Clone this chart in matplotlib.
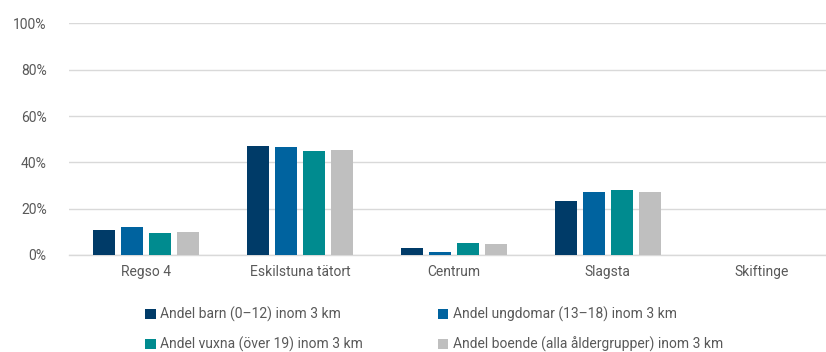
import numpy as np
import matplotlib.pyplot as plt
from matplotlib.ticker import PercentFormatter

plt.rcParams['font.family'] = ['Roboto', 'DejaVu Sans']

# områden och andelar (%) per åldersgrupp
omraden = ['Regso 4', 'Eskilstuna tätort', 'Centrum', 'Slagsta', 'Skiftinge']
barn = [10.8, 46.9, 3.0, 23.3, 0.0]
ungdomar = [12.1, 46.7, 1.3, 27.0, 0.0]
vuxna = [9.5, 45.0, 5.0, 28.0, 0.0]
boende = [9.9, 45.3, 4.6, 27.2, 0.0]

serier = [
    ('Andel barn (0–12) inom 3 km', barn, '#003b68'),
    ('Andel ungdomar (13–18) inom 3 km', ungdomar, '#00639f'),
    ('Andel vuxna (över 19) inom 3 km', vuxna, '#008b8f'),
    ('Andel boende (alla åldergrupper) inom 3 km', boende, '#bfbfbf'),
]

textfarg = '#595959'
gridfarg = '#d9d9d9'

fig = plt.figure(figsize=(8.26, 3.52), dpi=100)
ax = fig.add_axes([0.0835, 0.2756, 0.932, 0.658])

x = np.arange(len(omraden))
bredd = 0.143
steg = 0.182
staplar = []
for i, (namn, varden, farg) in enumerate(serier):
    b = ax.bar(x + (i - 1.5) * steg, varden, width=bredd, color=farg, label=namn, zorder=3)
    staplar.append(b)

ax.set_xlim(-0.5, len(omraden) - 0.5)
ax.set_ylim(0, 100)
ax.set_yticks(np.arange(0, 101, 20))
ax.yaxis.set_major_formatter(PercentFormatter(decimals=0))
ax.set_xticks(x)
ax.set_xticklabels(omraden)
ax.tick_params(axis='both', length=0, colors=textfarg, labelsize=10)
ax.tick_params(axis='y', pad=16)
ax.tick_params(axis='x', pad=7)
ax.grid(axis='y', color=gridfarg, linewidth=1, zorder=0)
for s in ['top', 'right', 'left']:
    ax.spines[s].set_visible(False)
ax.spines['bottom'].set_color(gridfarg)
ax.spines['bottom'].set_linewidth(1)

# legend radvis: barn, ungdomar / vuxna, boende
ordning = [0, 2, 1, 3]
leg = fig.legend([staplar[i] for i in ordning], [serier[i][0] for i in ordning],
                 ncol=2, loc='lower left', bbox_to_anchor=(0.161, -0.036),
                 frameon=False, fontsize=10, handlelength=0.75, handleheight=0.75,
                 handletextpad=0.3, columnspacing=5.4, labelspacing=1.05)
for t in leg.get_texts():
    t.set_color(textfarg)

fig.savefig('out.png', dpi=100)
